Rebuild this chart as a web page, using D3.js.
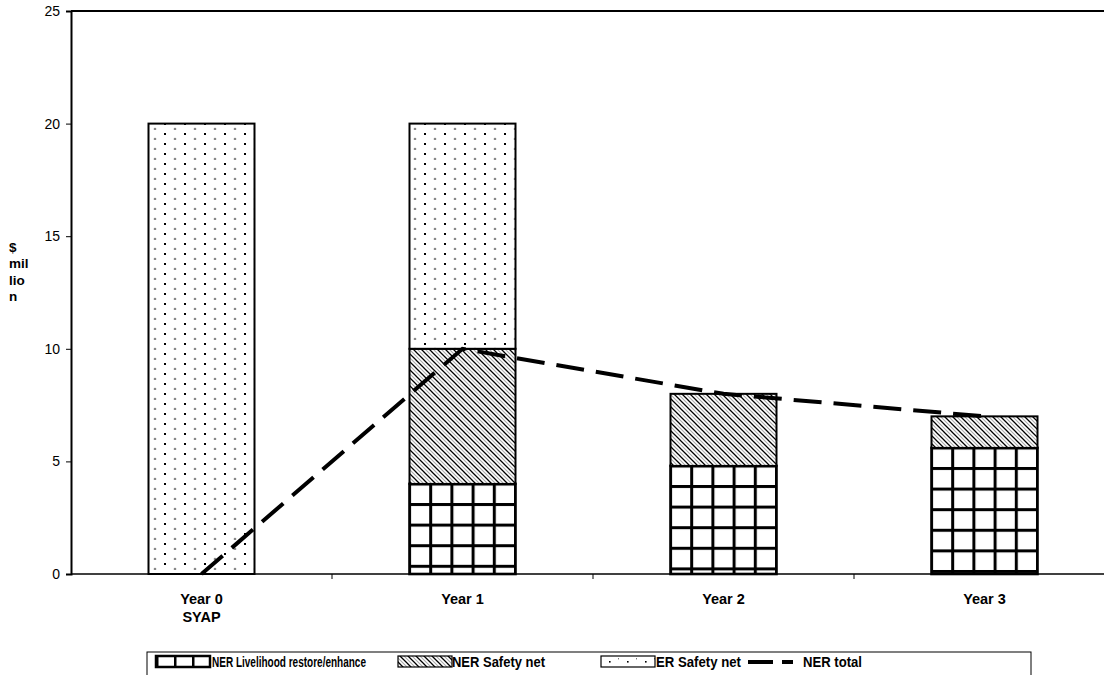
<!DOCTYPE html>
<html>
<head>
<meta charset="utf-8">
<script src="https://cdn.jsdelivr.net/npm/d3@7"></script>
<style>
  html, body { margin: 0; padding: 0; background: #fff; }
  svg { display: block; font-family: "Liberation Sans", Arial, sans-serif; }
</style>
</head>
<body>
<svg id="chart" width="1104" height="675"></svg>
<script>
// Funding by year ($ million)
const categories = ["Year 0|SYAP", "Year 1", "Year 2", "Year 3"];
const nerLivelihood = [0, 4, 4.8, 5.6];
const nerSafetyNet = [0, 6, 3.2, 1.4];
const erSafetyNet = [20, 10, 0, 0];
const nerTotal = [0, 10, 8, 7];
const yTicks = [0, 5, 10, 15, 20, 25];
const seriesNames = ["NER Livelihood restore/enhance", "NER Safety net", "ER Safety net", "NER total"];

const svg = d3.select("#chart");
const plotLeft = 71, plotTop = 11, plotBottom = 574, plotRight = 1115;

const x = d3.scaleBand().domain(categories).range([plotLeft, plotRight]).paddingInner(0).paddingOuter(0);
const y = d3.scaleLinear().domain([0, 25]).range([plotBottom, plotTop]);
const barW = 106;
const barX = c => x(c) + (x.bandwidth() - barW) / 2;

// Fill patterns
const defs = svg.append("defs");

// Square grid, one per bar so the cells start at each segment's top-left corner
categories.forEach((c, i) => {
  const cw = barW / 5, ch = 20.6;
  const g = defs.append("pattern").attr("id", "grid" + i)
    .attr("patternUnits", "userSpaceOnUse").attr("width", cw).attr("height", ch)
    .attr("x", barX(c) - 1.5).attr("y", y(nerLivelihood[i]) - 1.5);
  g.append("rect").attr("width", cw).attr("height", ch).attr("fill", "#fff");
  g.append("rect").attr("width", cw).attr("height", 3).attr("fill", "#000");
  g.append("rect").attr("width", 3).attr("height", ch).attr("fill", "#000");
});

const hatch = defs.append("pattern").attr("id", "hatch")
  .attr("patternUnits", "userSpaceOnUse").attr("width", 8).attr("height", 8);
hatch.append("rect").attr("width", 8).attr("height", 8).attr("fill", "#fff");
hatch.append("path").attr("d", "M-2,-2 L10,10 M-2,6 L2,10 M6,-2 L10,2").attr("stroke", "#000").attr("stroke-width", 1.3);
hatch.append("path").attr("d", "M2,-2 L10,6 M-2,2 L6,10").attr("stroke", "#aaa").attr("stroke-width", 1.1);

const dots = defs.append("pattern").attr("id", "dots")
  .attr("patternUnits", "userSpaceOnUse").attr("width", 20).attr("height", 10);
dots.append("rect").attr("width", 20).attr("height", 10).attr("fill", "#fff");
dots.append("rect").attr("x", 4).attr("y", 3).attr("width", 2).attr("height", 2).attr("fill", "#000");
dots.append("circle").attr("cx", 15).attr("cy", 9).attr("r", 1.3).attr("fill", "#888");

// Frame: top border
svg.append("line").attr("x1", plotLeft).attr("x2", 1104).attr("y1", plotTop).attr("y2", plotTop)
  .attr("stroke", "#000").attr("stroke-width", 2);

// Y axis
const yAxis = svg.append("g").attr("transform", `translate(${plotLeft},0)`)
  .call(d3.axisLeft(y).tickValues(yTicks).tickSize(5).tickPadding(6));
yAxis.select(".domain").attr("stroke-width", 2);
yAxis.selectAll("text").attr("font-size", 14).attr("fill", "#000")
  .attr("font-family", "Liberation Sans, Arial, sans-serif");

// Y label
const yl = svg.append("text").attr("x", 9).attr("y", 252)
  .attr("font-size", 13.5).attr("font-weight", "bold");
["$", "mil", "lio", "n"].forEach((t, i) => {
  yl.append("tspan").attr("x", 9).attr("dy", i === 0 ? 0 : 16.3).text(t);
});

// Stacked bars
const stackKeys = ["liv", "safe", "er"];
const rows = categories.map((c, i) => ({ cat: c, idx: i, liv: nerLivelihood[i], safe: nerSafetyNet[i], er: erSafetyNet[i] }));
const stacked = d3.stack().keys(stackKeys)(rows);
const fills = { liv: d => `url(#grid${d.data.idx})`, safe: () => "url(#hatch)", er: () => "url(#dots)" };

stacked.forEach(layer => {
  svg.append("g").selectAll("rect")
    .data(layer.filter(d => d[1] - d[0] > 0))
    .join("rect")
    .attr("x", d => barX(d.data.cat))
    .attr("width", barW)
    .attr("y", d => y(d[1]))
    .attr("height", d => y(d[0]) - y(d[1]))
    .attr("fill", fills[layer.key])
    .attr("stroke", "#000")
    .attr("stroke-width", layer.key === "liv" ? 2.6 : 2);
});

// X axis
const xAxis = svg.append("g").attr("transform", `translate(0,${plotBottom})`);
xAxis.append("line").attr("x1", plotLeft).attr("x2", 1104).attr("stroke", "#000").attr("stroke-width", 1.5);
xAxis.selectAll(".tk").data(categories.slice(1)).join("line")
  .attr("x1", d => x(d)).attr("x2", d => x(d)).attr("y1", 0).attr("y2", 5)
  .attr("stroke", "#000");
categories.forEach(c => {
  const t = xAxis.append("text").attr("text-anchor", "middle").attr("font-size", 14.5)
    .attr("font-weight", "bold").attr("y", 30);
  c.split("|").forEach((p, i) => {
    t.append("tspan").attr("x", x(c) + x.bandwidth() / 2).attr("dy", i === 0 ? 0 : 18).text(p);
  });
});

// NER total dashed line
const line = d3.line().x((d, i) => x(categories[i]) + x.bandwidth() / 2).y(d => y(d));
svg.append("path").datum(nerTotal).attr("d", line)
  .attr("fill", "none").attr("stroke", "#000").attr("stroke-width", 4)
  .attr("stroke-dasharray", "28,12");

// Legend
const legGrid = defs.append("pattern").attr("id", "legGrid")
  .attr("patternUnits", "userSpaceOnUse").attr("width", 18).attr("height", 30).attr("x", 156);
legGrid.append("rect").attr("width", 18).attr("height", 30).attr("fill", "#fff");
legGrid.append("rect").attr("x", 0).attr("width", 2.5).attr("height", 30).attr("fill", "#000");
const legDots = defs.append("pattern").attr("id", "legDots")
  .attr("patternUnits", "userSpaceOnUse").attr("width", 18).attr("height", 30).attr("x", 601).attr("y", 656);
legDots.append("rect").attr("width", 18).attr("height", 30).attr("fill", "#fff");
legDots.append("rect").attr("x", 8).attr("y", 5).attr("width", 1.6).attr("height", 1.6).attr("fill", "#000");
legDots.append("rect").attr("x", 17).attr("y", 2).attr("width", 1.4).attr("height", 1.4).attr("fill", "#777");

const lg = svg.append("g");
lg.append("rect").attr("x", 147).attr("y", 652).attr("width", 884).attr("height", 40)
  .attr("fill", "#fff").attr("stroke", "#000").attr("stroke-width", 1);
const legendItems = [
  { name: seriesNames[0], fill: "url(#legGrid)", px: 156, tx: 212, w: 154 },
  { name: seriesNames[1], fill: "url(#hatch)", px: 398, tx: 452, w: 93 },
  { name: seriesNames[2], fill: "url(#legDots)", px: 601, tx: 656, w: 85 }
];
legendItems.forEach(it => {
  lg.append("rect").attr("x", it.px).attr("y", 656).attr("width", 54).attr("height", 11)
    .attr("fill", it.fill).attr("stroke", "#000").attr("stroke-width", it.px === 156 ? 2.5 : 1.2);
  lg.append("text").attr("x", it.tx).attr("y", 667).attr("font-size", 14)
    .attr("font-weight", "bold").attr("textLength", it.w).attr("lengthAdjust", "spacingAndGlyphs")
    .text(it.name);
});
lg.append("line").attr("x1", 748).attr("x2", 793).attr("y1", 662).attr("y2", 662)
  .attr("stroke", "#000").attr("stroke-width", 4).attr("stroke-dasharray", "25,9");
lg.append("text").attr("x", 803).attr("y", 667).attr("font-size", 14)
  .attr("font-weight", "bold").attr("textLength", 59).attr("lengthAdjust", "spacingAndGlyphs")
  .text(seriesNames[3]);
</script>
</body>
</html>
